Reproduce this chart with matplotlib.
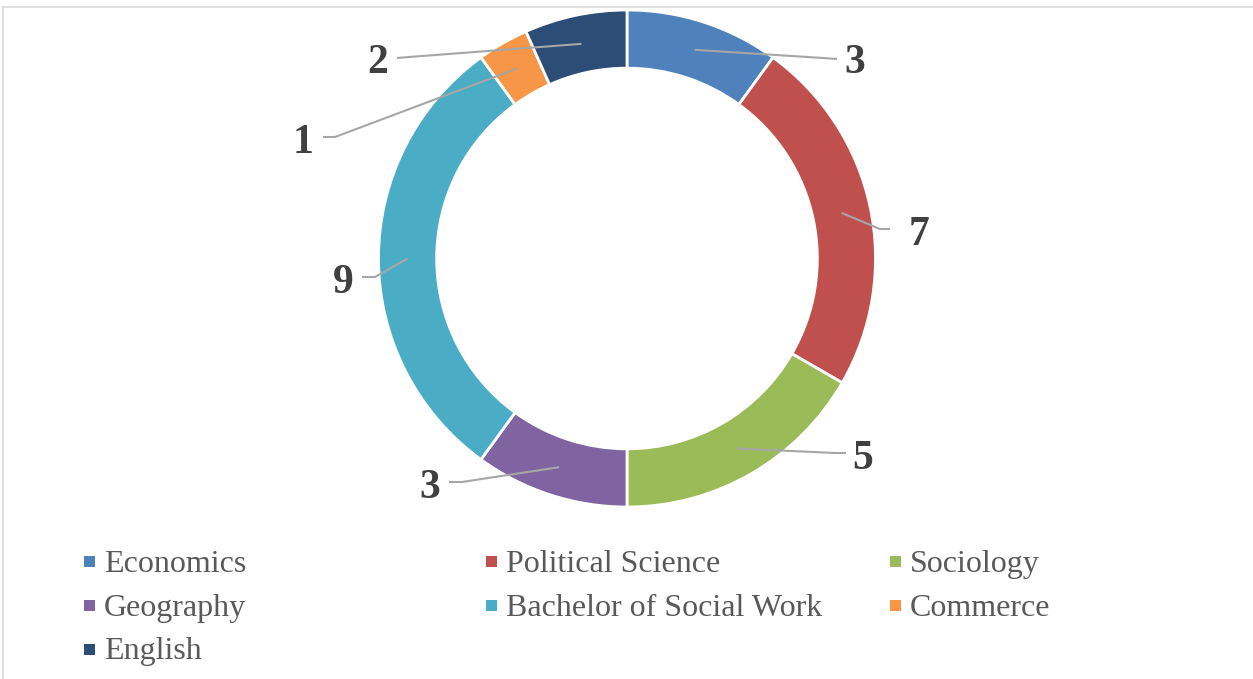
import matplotlib
matplotlib.use('Agg')
import numpy as np
import matplotlib.pyplot as plt
from matplotlib.patches import Rectangle
from matplotlib.lines import Line2D

categories = ['Economics', 'Political Science', 'Sociology', 'Geography',
              'Bachelor of Social Work', 'Commerce', 'English']
counts = [3, 7, 5, 3, 9, 1, 2]
colors = ['#4F81BD', '#C0504D', '#9BBB59', '#8064A2', '#4BACC6', '#F79646', '#2C4D75']

# label layout in pixels: label centre x, baseline y, elbow point, line end
label_xy = [(855, 73), (919, 245), (863, 469), (430, 498), (343, 293), (303, 153), (378, 73)]
elbow_xy = [(823, 58), (880, 229), (835, 453), (462, 482), (375, 277), (335, 137), (409, 57)]
end_xy = [(837, 59), (890, 229), (846, 453), (449, 482), (362, 277), (323, 137), (397, 58)]

W, H = 1253, 679
scale = 248.5
cx, cy = 627, 258.5
ring = 0.234

def to_data(px, py):
    return ((px - cx) / scale, (cy - py) / scale)

plt.rcParams['font.family'] = ['Liberation Serif', 'DejaVu Serif']

fig = plt.figure(figsize=(W / 100, H / 100), dpi=100)
ax = fig.add_axes([0, 0, 1, 1])

wedges, _ = ax.pie(counts, colors=colors, startangle=90, counterclock=False, radius=1,
                   wedgeprops=dict(width=ring, edgecolor='white', linewidth=2))
ax.set_xlim(-cx / scale, (W - cx) / scale)
ax.set_ylim(-(H - cy) / scale, cy / scale)
ax.axis('off')

r_mid = 1 - ring / 2
for w, n, lab, elb, end in zip(wedges, counts, label_xy, elbow_xy, end_xy):
    th = np.deg2rad((w.theta1 + w.theta2) / 2)
    sx, sy = r_mid * np.cos(th), r_mid * np.sin(th)
    ex, ey = to_data(*elb)
    fx, fy = to_data(*end)
    ax.plot([sx, ex, fx], [sy, ey, fy], color='#A6A6A6', lw=1.5, solid_capstyle='butt')
    lx, ly = to_data(*lab)
    ax.text(lx, ly, str(n), ha='center', va='baseline', fontsize=30,
            fontweight='bold', color='#404040')

# legend, three columns like the original
col_x = [84, 486, 890]
row_y = [561.5, 605, 649.5]
row_base = [572, 616, 659]
for i, name in enumerate(categories):
    c, r = i % 3, i // 3
    fig.add_artist(Rectangle((col_x[c] / W, 1 - (row_y[r] + 5.5) / H), 11 / W, 11 / H,
                             facecolor=colors[i], edgecolor='none', transform=fig.transFigure))
    fig.text((col_x[c] + 20) / W, 1 - row_base[r] / H, name, fontsize=23,
             color='#595959', va='baseline', ha='left')

# chart frame
fig.add_artist(Line2D([3 / W, 1], [1 - 7 / H, 1 - 7 / H], color='#D9D9D9', lw=1.2,
                      transform=fig.transFigure))
fig.add_artist(Line2D([3 / W, 3 / W], [0, 1 - 7 / H], color='#D9D9D9', lw=1.2,
                      transform=fig.transFigure))

fig.savefig('out.png', dpi=100)
